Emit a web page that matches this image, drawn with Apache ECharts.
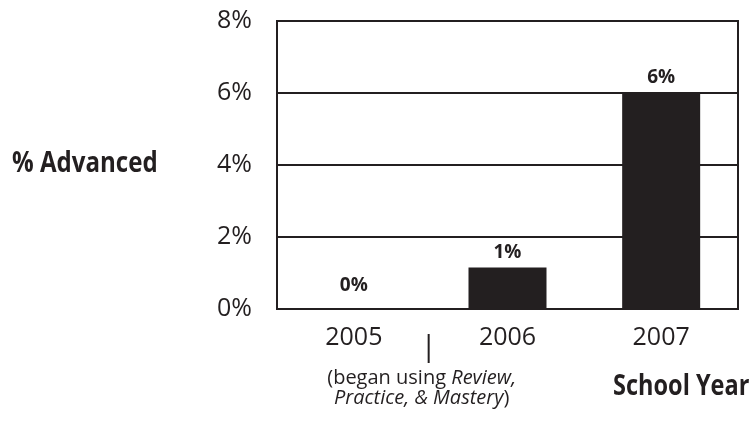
<!DOCTYPE html>
<html>
<head>
<meta charset="utf-8">
<script src="https://cdn.jsdelivr.net/npm/echarts@6/dist/echarts.min.js"></script>
<style>
  html, body { margin: 0; padding: 0; background: #fff; }
  #main { width: 752px; height: 432px; }
</style>
</head>
<body>
<div id="main"></div>
<script>
const years = ['2005', '2006', '2007']
const advanced = [0, 1.15, 6]
const valueLabels = ['0%', '1%', '6%']
const yTicks = [0, 2, 4, 6, 8]

const ink = '#231f20'
const chart = echarts.init(document.getElementById('main'))

// the 0% label sits a little higher than the others in the original
const barData = advanced.map((v, i) => i === 0 ? { value: v, label: { distance: 14 } } : v)

const option = {
  animation: false,
  textStyle: { fontFamily: 'Open Sans', color: ink },
  grid: {
    left: 277, right: 14, top: 21, bottom: 123,
    show: true, borderColor: ink, borderWidth: 2, backgroundColor: 'transparent'
  },
  xAxis: {
    type: 'category',
    data: years,
    axisLine: { show: true, lineStyle: { color: ink, width: 2 } },
    axisTick: { show: false },
    axisLabel: { color: ink, fontSize: 25, margin: 16, fontFamily: 'Open Sans' }
  },
  yAxis: {
    type: 'value',
    min: 0, max: 8, interval: 2,
    axisLine: { show: true, lineStyle: { color: ink, width: 2 } },
    axisTick: { show: false },
    splitLine: { show: true, lineStyle: { color: ink, width: 2 } },
    axisLabel: {
      color: ink, fontSize: 25, margin: 25, fontFamily: 'Open Sans',
      formatter: v => yTicks.includes(v) ? v + '%' : ''
    }
  },
  series: [{
    type: 'bar',
    data: barData,
    barWidth: 78,
    itemStyle: { color: ink },
    label: {
      show: true, position: 'top', distance: 6,
      color: ink, fontSize: 19, fontWeight: 'bold', fontFamily: 'Open Sans',
      formatter: p => valueLabels[p.dataIndex]
    }
  }]
}
chart.setOption(option)

// boundary between first and second category for the marker line
const p0 = chart.convertToPixel({ xAxisIndex: 0 }, 0)
const p1 = chart.convertToPixel({ xAxisIndex: 0 }, 1)
const bx = (p0 + p1) / 2

chart.setOption({
  graphic: [
    {
      type: 'text', x: 12, y: 164, scaleX: 0.86,
      style: {
        text: '% Advanced', fill: ink, verticalAlign: 'middle',
        font: 'bold 28px "Open Sans", sans-serif'
      }
    },
    {
      type: 'line',
      shape: { x1: bx - 2, y1: 334, x2: bx - 2, y2: 363 },
      style: { stroke: ink, lineWidth: 2 }
    },
    {
      type: 'text', x: bx - 9, y: 388,
      style: {
        text: '(began using {i|Review,}\n{i|Practice, & Mastery})',
        align: 'center', verticalAlign: 'middle', fill: ink,
        font: '20px "Open Sans", sans-serif', lineHeight: 20,
        rich: {
          i: { fontStyle: 'italic', fontSize: 20, lineHeight: 20, fontFamily: 'Open Sans', fill: ink }
        }
      }
    },
    {
      type: 'text', x: 613, y: 387, scaleX: 0.84,
      style: {
        text: 'School Year', fill: ink, verticalAlign: 'middle',
        font: 'bold 28px "Open Sans", sans-serif'
      }
    }
  ]
})
</script>
</body>
</html>
